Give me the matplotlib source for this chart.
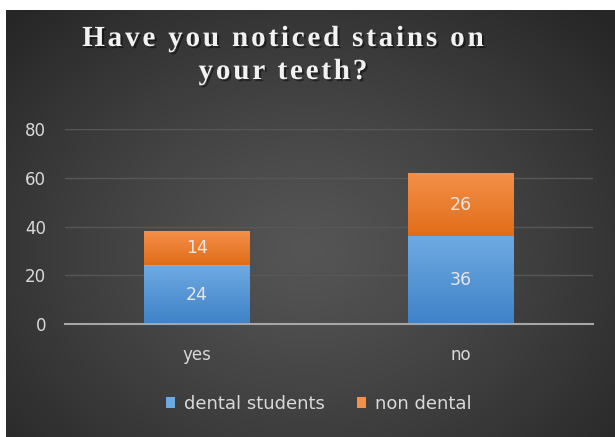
import numpy as np
import matplotlib.pyplot as plt
import matplotlib.patheffects as pe
from matplotlib.font_manager import FontProperties

categories = ['yes', 'no']
dental = [24, 36]
non_dental = [14, 26]
series_names = ['dental students', 'non dental']
title_lines = ['Have you noticed stains on', 'your teeth?']

W, H = 615, 437
fig = plt.figure(figsize=(W / 100, H / 100), dpi=100)
fig.patch.set_facecolor('white')

# dark radial background panel
bg = fig.add_axes([6 / W, 0, 1 - 6 / W, 1 - 10 / H])
bg.set_axis_off()
yy, xx = np.mgrid[0:427, 0:609]
r = np.sqrt(((xx - 300) / 420.0) ** 2 + ((yy - 240) / 330.0) ** 2)
r = np.clip(r, 0, 1)
c0 = np.array([0x55, 0x55, 0x55]) / 255
c1 = np.array([0x26, 0x26, 0x26]) / 255
img = c0 + (c1 - c0) * r[..., None] ** 1.2
bg.imshow(img, aspect='auto', extent=[0, 1, 0, 1], origin='upper')
bg.set_xlim(0, 1)
bg.set_ylim(0, 1)

ax = fig.add_axes([65 / W, 1 - 324 / H, (593 - 65) / W, (324 - 129) / H])
ax.patch.set_alpha(0)

x = np.arange(len(categories))
width = 0.4


def hexc(s):
    return [int(s[i:i + 2], 16) / 255 for i in (1, 3, 5)]


def grad_bar(ax, xs, bottoms, heights, top_col, bot_col, label):
    bars = ax.bar(xs, heights, width, bottom=bottoms, color=top_col, label=label, zorder=3)
    for b in bars:
        x0, y0 = b.get_x(), b.get_y()
        w, h = b.get_width(), b.get_height()
        g = np.linspace(0, 1, 100)[:, None, None]
        col = np.array(top_col)[None, None, :] * (1 - g) + np.array(bot_col)[None, None, :] * g
        im = ax.imshow(col, aspect='auto', extent=[x0, x0 + w, y0, y0 + h],
                       origin='upper', zorder=3.5)
        im.set_clip_path(b)
    return bars


grad_bar(ax, x, [0, 0], dental, hexc('#6eaae2'), hexc('#3f82c8'), series_names[0])
grad_bar(ax, x, dental, non_dental, hexc('#f5904a'), hexc('#e06d18'), series_names[1])

for i in range(len(categories)):
    ax.text(x[i], dental[i] / 2, str(dental[i]), ha='center', va='center',
            color='#e6e6e6', fontsize=12.5, zorder=5)
    ax.text(x[i], dental[i] + non_dental[i] / 2, str(non_dental[i]), ha='center',
            va='center', color='#e6e6e6', fontsize=12.5, zorder=5)

ax.set_xlim(-0.5, 1.5)
ax.set_ylim(0, 80)
ax.set_yticks([0, 20, 40, 60, 80])
ax.set_xticks(x)
ax.set_xticklabels(categories)
ax.yaxis.grid(True, color='#575757', linewidth=1, zorder=0)
ax.set_axisbelow(True)
for s in ['top', 'right', 'left']:
    ax.spines[s].set_visible(False)
ax.spines['bottom'].set_color('#a6a6a6')
ax.spines['bottom'].set_linewidth(1.5)
ax.spines['bottom'].set_zorder(6)
ax.tick_params(axis='both', length=0, colors='#d9d9d9', labelsize=12)
ax.tick_params(axis='y', pad=13.5)
ax.tick_params(axis='x', pad=16)

# title with expanded letter spacing, drawn char by char
renderer = fig.canvas.get_renderer()
tprop = FontProperties(family='Liberation Serif', weight='bold', size=21)
bar_w = renderer.get_text_width_height_descent('|', tprop, ismath=False)[0]


def adv(s):
    if s == '':
        return 0.0
    return renderer.get_text_width_height_descent(s + '|', tprop, ismath=False)[0] - bar_w


spacing = 2.8
shadow = [pe.withSimplePatchShadow(offset=(1.5, -1.5), shadow_rgbFace='black', alpha=0.45)]
for line, base_y in zip(title_lines, [46, 79]):
    total = adv(line) + spacing * (len(line) - 1)
    x_start = 283 - total / 2
    for i, ch in enumerate(line):
        if ch == ' ':
            continue
        px = x_start + adv(line[:i]) + i * spacing
        fig.text(px / W, 1 - base_y / H, ch, ha='left', va='baseline',
                 color='#f2f2f2', fontproperties=tprop, path_effects=shadow)

leg = ax.legend(loc='center', bbox_to_anchor=(319 / W, 1 - 404 / H),
                bbox_transform=fig.transFigure, ncol=2, frameon=False,
                fontsize=13, labelcolor='#d9d9d9', handlelength=0.5, handleheight=0.5,
                columnspacing=1.8, handletextpad=0.5)

fig.savefig('out.png', dpi=100, facecolor=fig.get_facecolor())
